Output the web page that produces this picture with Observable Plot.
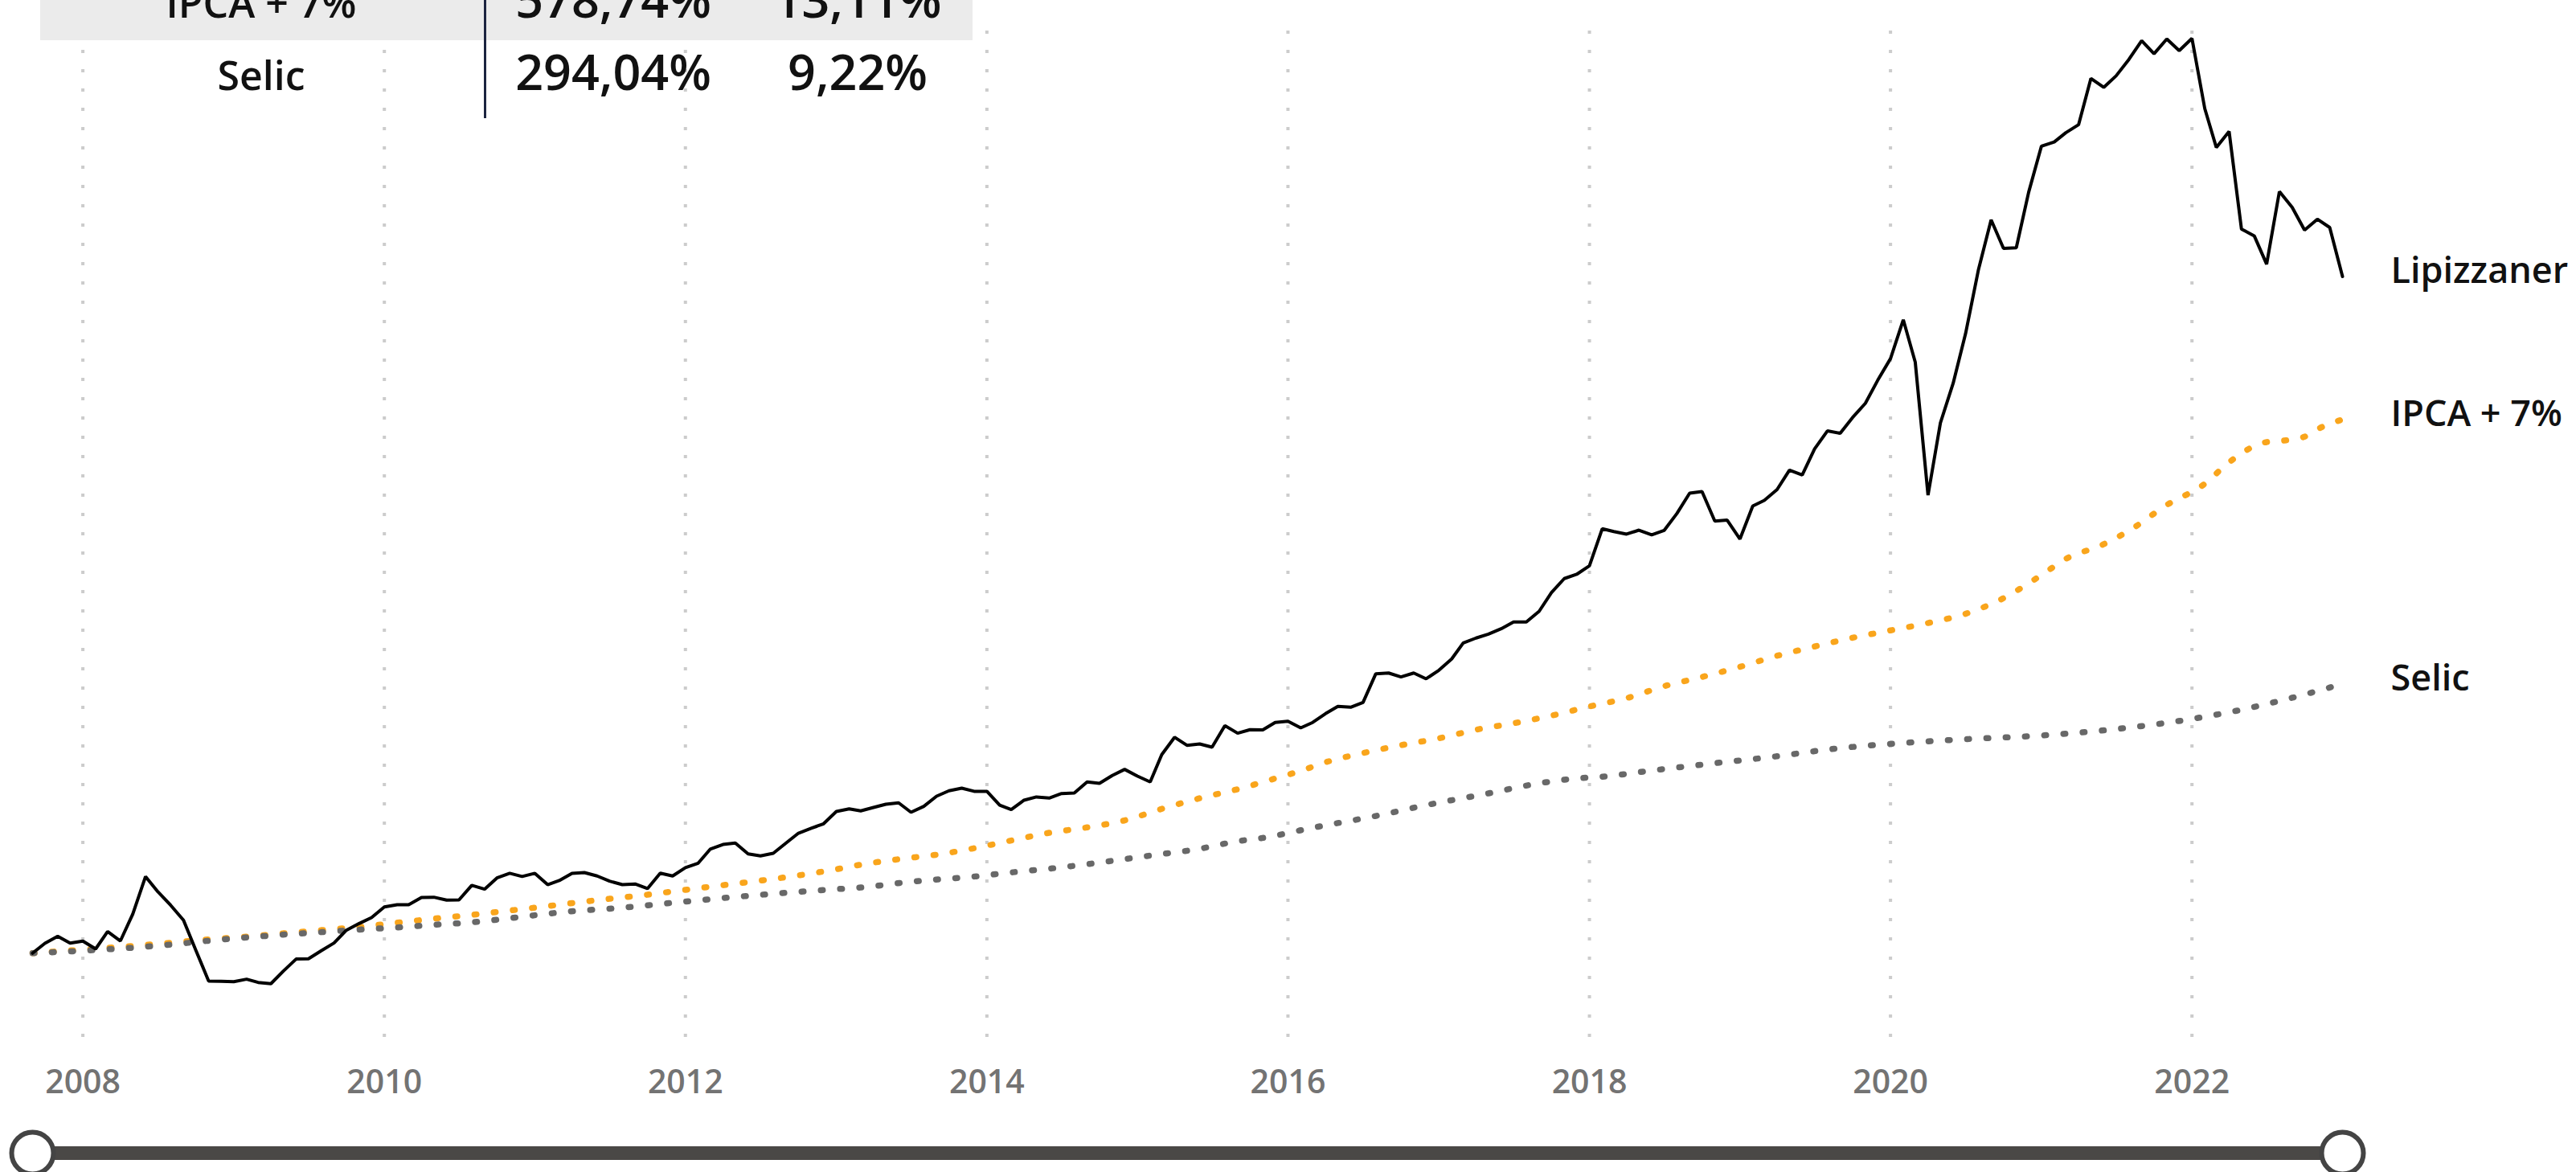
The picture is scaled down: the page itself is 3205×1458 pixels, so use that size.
<!DOCTYPE html>
<html>
<head>
<meta charset="utf-8">
<script src="https://cdn.jsdelivr.net/npm/d3@7"></script>
<script src="https://cdn.jsdelivr.net/npm/@observablehq/plot@0.6"></script>
<style>
  html, body { margin: 0; padding: 0; background: #fff; }
  #wrap { position: relative; width: 3205px; height: 1458px; overflow: hidden; font-family: "Open Sans", "Noto Sans", sans-serif; }
  #chart { position: absolute; left: 0; top: 0; }
  .cell { position: absolute; white-space: nowrap; text-align: center; color: #111; font-weight: 600; line-height: 1; }
</style>
</head>
<body>
<div id="wrap"><div id="chart"></div></div>
<script>
// ---------- data ----------
// Months are counted from January 2008 (0 = Jan 2008); values are cumulative return in %.
const lipStartMonth = -4;
const lipizzaner = [
  0, 10.7, 18.3, 11.0,
  13.1, 4.6, 23.5, 13.3, 42.4, 83.1, 66.5, 51.9, 35.7, 3.1,
  -30.2, -30.5, -30.9, -28.2, -31.7, -33.1, -19.5, -6.4, -6.1, 2.6,
  11.0, 24.9, 32.2, 38.6, 50.2, 52.6, 52.6, 60.4, 60.7, 57.5,
  57.8, 73.5, 69.4, 81.6, 86.6, 83.1, 86.6, 74.3, 78.7, 86.6,
  87.4, 83.7, 78.1, 74.3, 75.0, 70.0, 86.8, 83.7, 92.7, 97.6,
  112.7, 117.9, 119.4, 107.7, 105.5, 108.3, 119.4, 130.1, 135.4, 140.3,
  153.7, 156.5, 154.3, 158.0, 161.5, 163.0, 152.8, 159.2, 170.2, 176.1,
  178.9, 175.5, 175.5, 160.6, 155.7, 165.9, 169.4, 168.2, 173.1, 173.7,
  185.7, 184.2, 192.6, 199.3, 192.0, 185.7, 215.3, 234.1, 225.4, 226.9,
  223.4, 246.7, 238.5, 242.3, 242.1, 250.2, 251.5, 244.3, 250.2, 259.7,
  267.6, 266.7, 271.9, 303.0, 303.8, 299.5, 303.8, 297.5, 306.8, 319.0,
  336.4, 341.7, 346.0, 351.8, 359.1, 359.1, 370.7, 391.0, 406.2, 410.8,
  420.1, 460.2, 457.2, 454.4, 458.7, 453.5, 458.3, 476.7, 498.8, 500.6,
  468.5, 469.6, 449.1, 484.9, 491.0, 502.7, 523.8, 518.5, 546.8, 566.3,
  563.7, 580.8, 596.2, 621.2, 644.7, 686.8, 640.9, 496.6, 575.0, 618.1,
  671.8, 740.6, 795.2, 764.2, 764.9, 825.1, 875.1, 879.6, 889.6, 898.3,
  948.5, 938.8, 951.3, 969.1, 989.5, 975.3, 991.3, 978.6, 991.9, 915.9,
  873.7, 891.1, 785.1, 777.8, 747.1, 825.9, 808.7, 784.1, 795.9, 786.9, 733.7
];

const ipcaMonth = [-4,1,4,7,10,13,16,19,22,25,28,31,34,36,39,42,45,48,51,54,57,60,62,65,68,71,74,77,80,83,86,89,92,95,97,99,102,105,108,111,114,117,120,123,126,129,132,135,138,141,144,147,150,153,156,158,161,163,166,169,171,174,175,177,178,180];
const ipcaValue = [0,4.9,7.8,11.3,15.0,17.9,21.5,25.0,28.4,33.0,37.4,41.5,46.2,49.3,54.3,59.0,63.4,68.7,73.7,78.7,84.3,91.0,96.0,101.9,106.8,113.8,122.2,130.5,136.4,144.0,156.5,168.0,177.8,189.5,197.7,207.0,217.0,225.5,233.0,242.3,249.3,257.6,267.5,276.5,289.5,299.5,310.5,322.5,332.5,342,350,358,368,385,410,427.5,443.5,458,486,509,532.3,554.2,555.3,560,568.1,578.74];

const selicMonth = [-4,1,4,7,10,13,16,19,22,25,28,30,40,42,45,48,51,54,57,60,62,66,71,75,77,80,83,85,89,92,94,98,103,107,112,116,119,121,125,127,130,135,139,144,150,156,162,168,172,176,180];
const selicValue = [0,3.4,5.9,9.3,13.5,17.0,20.1,22.8,25.5,27.9,30.8,32.4,46.5,48.2,51.9,56.0,59.8,63.3,66.5,69.4,71.2,77.5,83.1,89.0,91.6,96.5,102.0,105.8,113.2,121.4,125.0,136.0,148.8,160.5,173.3,184.2,189.5,191.4,198.0,201.3,206,213.5,220.8,227,232,236,243,254,264,277,292];

const seriesNames = ["Lipizzaner", "IPCA + 7%", "Selic"];
const tickYears = [2008, 2010, 2012, 2014, 2016, 2018, 2020, 2022];

const tableLabels = ["IPCA + 7%", "Selic"];
const tableTotal = ["578,74%", "294,04%"];
const tableAnnual = ["13,11%", "9,22%"];

// ---------- build ----------
const monthDate = m => new Date(Date.UTC(2008, m, 1));
const lip = lipizzaner.map((v, i) => ({date: monthDate(lipStartMonth + i), value: v}));
const ipca = ipcaMonth.map((m, i) => ({date: monthDate(m), value: ipcaValue[i]}));
const selic = selicMonth.map((m, i) => ({date: monthDate(m), value: selicValue[i]}));
const ticks = tickYears.map(y => new Date(Date.UTC(y, 0, 1)));
const firstDate = lip[0].date, lastDate = lip[lip.length - 1].date;
const ends = [
  {date: lastDate, value: lip[lip.length - 1].value, name: seriesNames[0]},
  {date: ipca[ipca.length - 1].date, value: ipca[ipca.length - 1].value, name: seriesNames[1]},
  {date: selic[selic.length - 1].date, value: selic[selic.length - 1].value, name: seriesNames[2]}
];

const ORANGE = "#F9A51C", GRAY = "#686868", SLIDER = "#4a4846";

const chart = Plot.plot({
  width: 3205,
  height: 1458,
  marginLeft: 40,
  marginRight: 291,
  marginTop: 38,
  marginBottom: 158,
  style: {fontFamily: "Open Sans, Noto Sans, sans-serif", background: "transparent", overflow: "visible"},
  x: {type: "utc", domain: [firstDate, lastDate]},
  y: {domain: [-100, 1000], axis: null},
  marks: [
    Plot.gridX(ticks, {stroke: "#cccccc", strokeOpacity: 1, strokeWidth: 4, strokeDasharray: "4 20"}),
    Plot.axisX(ticks, {tickSize: 0, tickPadding: 30, tickFormat: d3.utcFormat("%Y"), fontSize: 41, fontWeight: 600, fill: "#737373"}),
    Plot.line(ipca, {x: "date", y: "value", stroke: ORANGE, strokeWidth: 7.5, strokeDasharray: "2.5 21.5", strokeLinecap: "round", curve: "monotone-x"}),
    Plot.line(selic, {x: "date", y: "value", stroke: GRAY, strokeWidth: 7.5, strokeDasharray: "2.5 21.5", strokeLinecap: "round", curve: "monotone-x"}),
    Plot.line(lip, {x: "date", y: "value", stroke: "#000", strokeWidth: 4, strokeLinejoin: "miter"}),
    Plot.text(ends, {x: "date", y: "value", text: "name", textAnchor: "start", dx: 60, dy: -6, fontSize: 45, fontWeight: 600, fill: "#111"}),
    // range slider under the axis, spanning the data's first and last dates
    Plot.ruleY([{x1: firstDate, x2: lastDate}], {x1: "x1", x2: "x2", y: () => -100, dy: 134, stroke: SLIDER, strokeWidth: 17}),
    Plot.dot([firstDate, lastDate], {x: d => d, frameAnchor: "bottom", dy: 134, r: 26, fill: "#fff", stroke: "#444", strokeWidth: 6})
  ]
});
document.getElementById("chart").appendChild(chart);

// ---------- table overlay (cut off at the top, as in the original) ----------
const wrap = document.getElementById("wrap");
const bg = document.createElement("div");
Object.assign(bg.style, {position: "absolute", left: "50px", top: "-47px", width: "1160px", height: "97px", background: "#ebebeb"});
wrap.appendChild(bg);
const vline = document.createElement("div");
Object.assign(vline.style, {position: "absolute", left: "602px", top: "-50px", width: "3px", height: "197px", background: "#1c2440"});
wrap.appendChild(vline);
const rowBaseline = [22, 112];
const cols = [
  {center: 325, size: 50, texts: tableLabels},
  {center: 763, size: 61, texts: tableTotal},
  {center: 1067, size: 61, texts: tableAnnual}
];
cols.forEach(c => {
  c.texts.forEach((t, r) => {
    const d = document.createElement("div");
    d.className = "cell";
    d.textContent = t;
    d.style.fontSize = c.size + "px";
    d.style.width = "500px";
    d.style.left = (c.center - 250) + "px";
    // baseline ≈ top + 0.887em for Open Sans with line-height 1
    d.style.top = (rowBaseline[r] - 0.887 * c.size) + "px";
    wrap.appendChild(d);
  });
});
</script>
</body>
</html>
